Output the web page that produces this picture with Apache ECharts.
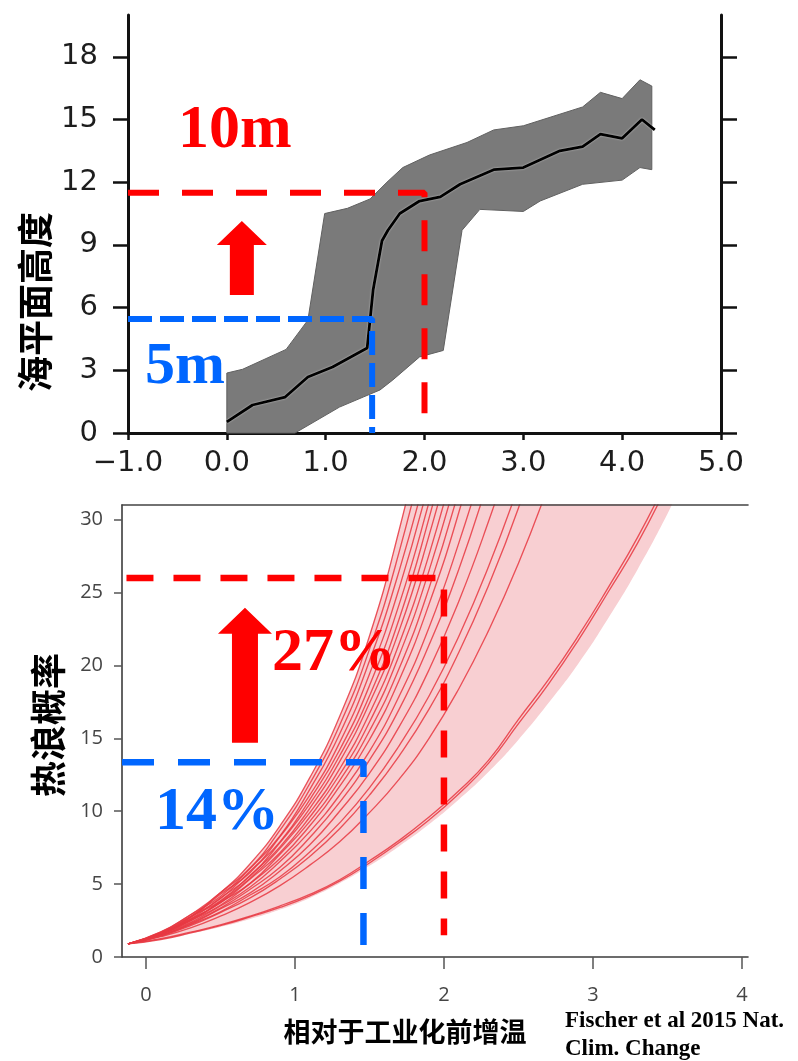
<!DOCTYPE html>
<html><head><meta charset="utf-8">
<script src="https://cdn.jsdelivr.net/npm/echarts@6/dist/echarts.min.js"></script>
<style>html,body{margin:0;padding:0;background:#fff}#c{width:798px;height:1061px}</style>
</head><body><div id="c"></div>
<script>
// ---------- Top panel: sea level vs warming ----------
const seaXTicks = [-1, 0, 1, 2, 3, 4, 5];
const seaYTicks = [0, 3, 6, 9, 12, 15, 18];
const seaMeanT = [0, 0.26, 0.59, 0.82, 1.07, 1.42, 1.48, 1.57, 1.63, 1.75, 1.95, 2.16, 2.36, 2.7, 3.0, 3.37, 3.6, 3.78, 4.0, 4.2, 4.33];
const seaMean  = [0.53, 1.34, 1.72, 2.68, 3.16, 4.07, 6.84, 9.2, 9.7, 10.5, 11.1, 11.3, 11.9, 12.6, 12.7, 13.5, 13.7, 14.3, 14.1, 15.0, 14.5];
const seaHiT = [0, 0.16, 0.6, 0.82, 0.99, 1.22, 1.45, 1.62, 1.78, 2.05, 2.43, 2.7, 3.0, 3.6, 3.78, 4.0, 4.18, 4.3];
const seaHi  = [2.87, 3.05, 4.0, 5.4, 10.5, 10.75, 11.2, 12.0, 12.7, 13.3, 13.9, 14.5, 14.7, 15.6, 16.3, 16.0, 16.9, 16.6];
const seaLoT = [0, 0.69, 1.14, 1.38, 1.55, 1.68, 1.95, 2.19, 2.38, 2.56, 3.0, 3.17, 3.6, 4.0, 4.18, 4.3];
const seaLo  = [0, 0, 1.24, 1.72, 2.06, 2.54, 3.64, 3.95, 9.7, 10.7, 10.6, 11.1, 11.9, 12.1, 12.7, 12.6];
const seaRed  = [[-1, 11.5], [2.0, 11.5], [2.0, 0.1]];
const seaBlue = [[-1, 5.45], [1.47, 5.45], [1.47, 0]];
const seaArrow = [0.152, 6.6, 10.14];   // x, base, tip

// ---------- Bottom panel: heatwave probability ----------
const heatXTicks = [0, 1, 2, 3, 4];
const heatYTicks = [0, 5, 10, 15, 20, 25, 30];
const heatX  = [-0.12, 0.1, 0.3, 0.5, 0.7, 0.9, 1.1, 1.3, 1.5, 1.7, 1.9, 2.1, 2.3, 2.5, 2.7, 2.9, 3.1, 3.3, 3.5, 3.7, 4.2];
const heatLo = [0.85, 1.2, 1.6, 2.05, 2.6, 3.25, 4.05, 5.05, 6.25, 7.6, 9.1, 10.8, 12.7, 14.9, 17.4, 20.1, 23.2, 26.6, 30.4, 34.5, 40];
const heatHi = [0.9, 1.7, 2.9, 4.4, 6.4, 9.0, 12.3, 16.5, 22.0, 29.3, 38, 40, 40, 40, 40, 40, 40, 40, 40, 40, 40];
const run01 = [0.9, 1.7, 2.9, 4.4, 6.4, 9.0, 12.3, 16.5, 22.0, 29.3, 38];
const run02 = [0.9, 1.68, 2.75, 4.4, 6.1, 8.7, 11.9, 15.9, 21.1, 27.8, 36];
const run03 = [0.9, 1.72, 2.9, 4.15, 6.1, 8.3, 11.5, 15.3, 20.3, 26.5, 34];
const run04 = [0.9, 1.6, 2.7, 4.3, 5.8, 8.25, 11.1, 14.7, 19.4, 25.3, 32.6];
const run05 = [0.9, 1.66, 2.78, 4.0, 5.9, 7.9, 10.8, 14.2, 18.6, 24.2, 31.2, 39];
const run06 = [0.9, 1.6, 2.6, 4.05, 5.55, 7.85, 10.5, 13.8, 17.9, 23.2, 30.1, 38];
const run07 = [0.9, 1.58, 2.75, 3.85, 5.6, 7.55, 10.2, 13.4, 17.4, 22.4, 28.9, 36.5];
const run08 = [0.9, 1.62, 2.55, 3.8, 5.4, 7.45, 9.9, 12.9, 16.7, 21.5, 27.6, 35];
const run09 = [0.9, 1.55, 2.6, 3.7, 5.35, 7.15, 9.6, 12.5, 16.1, 20.7, 26.5, 33.5];
const run10 = [0.9, 1.58, 2.48, 3.75, 5.05, 7.05, 9.3, 12.1, 15.5, 19.8, 25.3, 32];
const run11 = [0.9, 1.52, 2.5, 3.55, 5.05, 6.75, 9.0, 11.7, 14.9, 19.0, 24.2, 30.5, 38];
const run12 = [0.9, 1.55, 2.38, 3.5, 4.8, 6.55, 8.6, 11.1, 14.1, 17.9, 22.6, 28.4, 35];
const run13 = [0.9, 1.48, 2.32, 3.35, 4.65, 6.15, 8.2, 10.6, 13.5, 17.0, 21.4, 26.6, 32.8];
const run14 = [0.9, 1.5, 2.25, 3.3, 4.4, 5.9, 7.7, 10.0, 12.6, 15.8, 19.7, 24.4, 29.9, 36];
const run15 = [0.9, 1.45, 2.22, 3.1, 4.25, 5.5, 7.2, 9.2, 11.6, 14.5, 17.9, 22.0, 26.8, 32.3];
const run16 = [0.9, 1.44, 2.15, 3.05, 4.05, 5.35, 6.9, 8.8, 11.1, 13.8, 17.0, 20.9, 25.5, 30.8, 37];
const run17 = [0.9, 1.4, 2.0, 2.8, 3.75, 4.9, 6.3, 7.9, 9.9, 12.2, 15.0, 18.4, 22.4, 27.0, 32.3];
const run18 = [0.9, 1.25, 1.7, 2.2, 2.8, 3.5, 4.3, 5.3, 6.6, 8.0, 9.6, 11.4, 13.5, 16.3, 19.0, 22.0, 25.3, 28.8, 32.8];
const run19 = [0.9, 1.2, 1.65, 2.15, 2.75, 3.4, 4.2, 5.2, 6.45, 7.85, 9.4, 11.2, 13.3, 16.0, 18.7, 21.7, 25.0, 28.4, 32.4];
const heatRuns = [run01, run02, run03, run04, run05, run06, run07, run08, run09, run10,
                  run11, run12, run13, run14, run15, run16, run17, run18, run19];
const heatRed  = [[-0.13, 26], [2.0, 26], [2.0, 1.5]];
const heatBlue = [[-0.16, 13.35], [1.46, 13.35], [1.46, 0.8]];
const heatArrow = [0.665, 14.7, 23.95];

const RED = '#ff0000', BLUE = '#0066ff';

function zip(xs, ys) { return ys.map((v, i) => [xs[i], v]); }
function arrow(arr, shaftW, headW, headL) {
  return function (params, api) {
    const b = api.coord([arr[0], arr[1]]);
    const t = api.coord([arr[0], arr[2]]);
    const cx = b[0], hb = t[1] + headL;
    return { type: 'polygon', shape: { points: [
      [cx - shaftW / 2, b[1]], [cx - shaftW / 2, hb], [cx - headW / 2, hb], [cx, t[1]],
      [cx + headW / 2, hb], [cx + shaftW / 2, hb], [cx + shaftW / 2, b[1]]] },
      style: { fill: RED } };
  };
}

const topFont = { fontFamily: 'DejaVu Sans', fontSize: 29, color: '#1d1d1d' };
const botFont = { fontFamily: 'Open Sans', fontSize: 20, color: '#454545' };

const heatSeries = heatRuns.map(r => ({
  type: 'line', xAxisIndex: 1, yAxisIndex: 2, data: zip(heatX, r), smooth: true,
  symbol: 'none', clip: true, z: 3,
  lineStyle: { color: 'rgba(232,56,66,0.85)', width: 1.35 }
}));

const option = {
  animation: false,
  grid: [
    { left: 128, right: 77, top: 15, bottom: 628 },
    { left: 122, right: 50, top: 505, bottom: 104 }
  ],
  xAxis: [
    { type: 'value', gridIndex: 0, min: -1, max: 5, interval: 1,
      axisLine: { onZero: false, lineStyle: { color: '#111', width: 3 } },
      axisTick: { length: 7, lineStyle: { color: '#111', width: 2.5 }, customValues: seaXTicks },
      axisLabel: Object.assign({ margin: 16, customValues: seaXTicks,
        formatter: v => (v < 0 ? '\u2212' + Math.abs(v).toFixed(1) : v.toFixed(1)) }, topFont),
      splitLine: { show: false } },
    { type: 'value', gridIndex: 1, min: -0.16, max: 4.04, z: 5,
      axisLine: { onZero: false, lineStyle: { color: '#3c3c3c', width: 1.6 } },
      axisTick: { length: 12, lineStyle: { color: '#555', width: 1.5 }, customValues: heatXTicks },
      axisLabel: Object.assign({ margin: 28, customValues: heatXTicks }, botFont),
      splitLine: { show: false } },
    { type: 'value', gridIndex: 1, position: 'top', min: -0.16, max: 4.04, z: 5,
      axisLine: { onZero: false, lineStyle: { color: '#444', width: 1.6 } },
      axisTick: { show: false }, axisLabel: { show: false }, splitLine: { show: false } }
  ],
  yAxis: [
    { type: 'value', gridIndex: 0, min: 0, max: 20, interval: 3,
      axisLine: { show: true, onZero: false, lineStyle: { color: '#111', width: 3 } },
      axisTick: { length: 15, lineStyle: { color: '#111', width: 2.5 }, customValues: seaYTicks },
      axisLabel: Object.assign({ margin: 30, customValues: seaYTicks }, topFont),
      splitLine: { show: false } },
    { type: 'value', gridIndex: 0, position: 'right', min: 0, max: 20, interval: 3,
      axisLine: { show: true, onZero: false, lineStyle: { color: '#111', width: 3 } },
      axisTick: { length: 16, lineStyle: { color: '#111', width: 2.5 }, customValues: seaYTicks },
      axisLabel: { show: false }, splitLine: { show: false } },
    { type: 'value', gridIndex: 1, min: 0, max: 31, interval: 5, z: 5,
      axisLine: { show: true, onZero: false, lineStyle: { color: '#3c3c3c', width: 1.6 } },
      axisTick: { length: 8, lineStyle: { color: '#555', width: 1.5 }, customValues: heatYTicks },
      axisLabel: Object.assign({ margin: 19, customValues: heatYTicks }, botFont),
      splitLine: { show: false } }
  ],
  series: [
    // top band
    { type: 'custom', xAxisIndex: 0, yAxisIndex: 0, data: [[0, 0]], z: 1,
      renderItem: (p, api) => {
        const pts = [];
        seaHiT.forEach((t, i) => pts.push(api.coord([t, seaHi[i]])));
        for (let i = seaLoT.length - 1; i >= 0; i--) pts.push(api.coord([seaLoT[i], seaLo[i]]));
        return { type: 'polygon', shape: { points: pts },
                 style: { fill: '#7a7a7a', stroke: '#606060', lineWidth: 1 } };
      } },
    { type: 'line', xAxisIndex: 0, yAxisIndex: 0, data: zip(seaMeanT, seaMean), symbol: 'none', z: 3,
      lineStyle: { color: '#000', width: 2.8, shadowColor: 'rgba(255,255,255,0.6)', shadowBlur: 2 } },
    { type: 'line', xAxisIndex: 0, yAxisIndex: 0, data: seaRed, symbol: 'none', z: 6,
      lineStyle: { color: RED, width: 6, type: [31, 23], cap: 'butt' } },
    { type: 'line', xAxisIndex: 0, yAxisIndex: 0, data: seaBlue, symbol: 'none', z: 6,
      lineStyle: { color: BLUE, width: 6, type: [24, 8], cap: 'butt' } },
    { type: 'custom', xAxisIndex: 0, yAxisIndex: 0, data: [[seaArrow[0], seaArrow[1]]], z: 7,
      renderItem: arrow(seaArrow, 24, 50, 24) },
    // bottom band: pink area under the upper envelope, white area under the lower envelope
    { type: 'line', xAxisIndex: 1, yAxisIndex: 2, data: zip(heatX, heatHi),
      smooth: true, symbol: 'none', lineStyle: { opacity: 0 }, z: 1,
      areaStyle: { color: '#f8cfd2', opacity: 1 } },
    { type: 'line', xAxisIndex: 1, yAxisIndex: 2, data: zip(heatX, heatLo),
      smooth: true, symbol: 'none', lineStyle: { opacity: 0 }, z: 2,
      areaStyle: { color: '#ffffff', opacity: 1 } },
    ...heatSeries,
    { type: 'line', xAxisIndex: 1, yAxisIndex: 2, data: heatRed, symbol: 'none', z: 6,
      lineStyle: { color: RED, width: 6.5, type: [27, 20], cap: 'butt' } },
    { type: 'line', xAxisIndex: 1, yAxisIndex: 2, data: heatBlue, symbol: 'none', z: 6,
      lineStyle: { color: BLUE, width: 6.5, type: [32, 24], cap: 'butt' } },
    { type: 'custom', xAxisIndex: 1, yAxisIndex: 2, data: [[heatArrow[0], heatArrow[1]]], z: 7,
      renderItem: arrow(heatArrow, 26, 54, 26) }
  ],
  graphic: [
    { type: 'text', x: 178, y: 131, z: 20, style: { text: '10m', fill: RED,
      font: 'bold 62px "Liberation Serif"', textAlign: 'left', textVerticalAlign: 'middle', align: 'left', verticalAlign: 'middle' } },
    { type: 'text', x: 145, y: 367, z: 20, style: { text: '5m', fill: BLUE,
      font: 'bold 60px "Liberation Serif"', textAlign: 'left', textVerticalAlign: 'middle', align: 'left', verticalAlign: 'middle' } },
    { type: 'text', x: 272, y: 654, z: 20, style: { text: '27%', fill: RED,
      font: 'bold 62px "Liberation Serif"', textAlign: 'left', textVerticalAlign: 'middle', align: 'left', verticalAlign: 'middle' } },
    { type: 'text', x: 155, y: 813, z: 20, style: { text: '14%', fill: BLUE,
      font: 'bold 62px "Liberation Serif"', textAlign: 'left', textVerticalAlign: 'middle', align: 'left', verticalAlign: 'middle' } },
    { type: 'text', x: 35, y: 302, rotation: Math.PI / 2, z: 20, style: { text: '海平面高度', fill: '#000',
      font: 'bold 36px "Noto Sans CJK SC"', textAlign: 'center', textVerticalAlign: 'middle', align: 'center', verticalAlign: 'middle' } },
    { type: 'text', x: 48, y: 725, rotation: Math.PI / 2, z: 20, style: { text: '热浪概率', fill: '#000',
      font: 'bold 36px "Noto Sans CJK SC"', textAlign: 'center', textVerticalAlign: 'middle', align: 'center', verticalAlign: 'middle' } },
    { type: 'text', x: 405, y: 1032, z: 20, style: { text: '相对于工业化前增温', fill: '#000',
      font: 'bold 27px "Noto Sans CJK SC"', textAlign: 'center', textVerticalAlign: 'middle', align: 'center', verticalAlign: 'middle' } },
    { type: 'text', x: 565, y: 1007, z: 20, style: { text: 'Fischer et al 2015 Nat.\nClim. Change', fill: '#000',
      font: 'bold 23px "Liberation Serif"', lineHeight: 28, textAlign: 'left', textVerticalAlign: 'top', align: 'left', verticalAlign: 'top' } }
  ]
};
echarts.init(document.getElementById('c')).setOption(option);
</script></body></html>
